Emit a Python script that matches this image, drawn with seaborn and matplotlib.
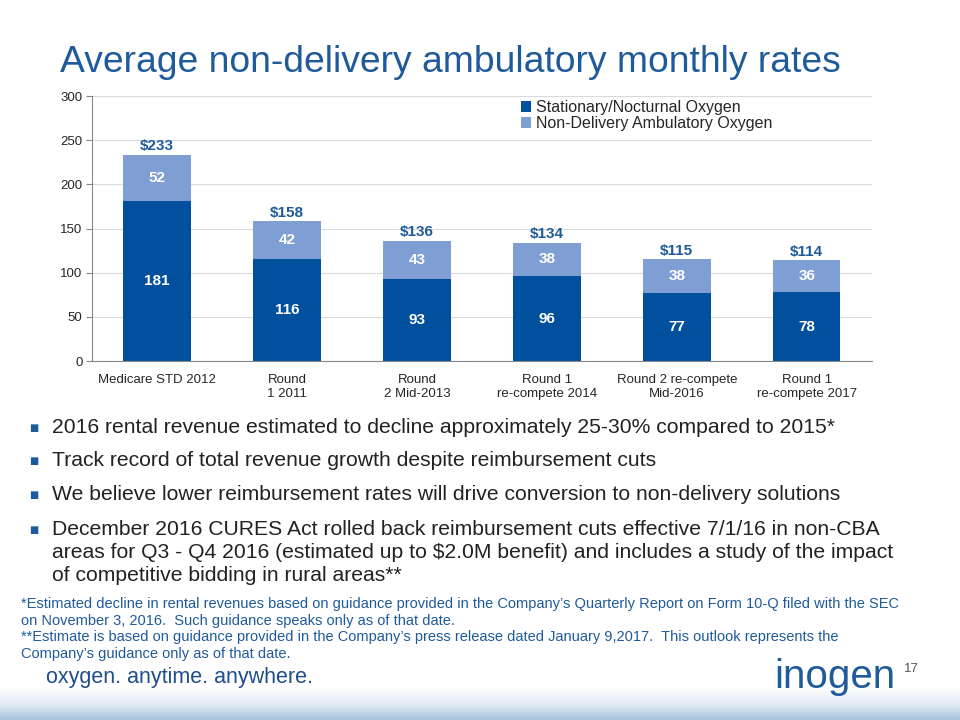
import matplotlib.pyplot as plt
import seaborn as sns
import pandas as pd
import numpy as np
from matplotlib.colors import LinearSegmentedColormap

categories = ["Medicare STD 2012", "Round\n1 2011", "Round\n2 Mid-2013",
              "Round 1\nre-compete 2014", "Round 2 re-compete\nMid-2016",
              "Round 1\nre-compete 2017"]
stationary = [181, 116, 93, 96, 77, 78]
ambulatory = [52, 42, 43, 38, 38, 36]
totals = [233, 158, 136, 134, 115, 114]

bullets = [
    "2016 rental revenue estimated to decline approximately 25-30% compared to 2015*",
    "Track record of total revenue growth despite reimbursement cuts",
    "We believe lower reimbursement rates will drive conversion to non-delivery solutions",
    "December 2016 CURES Act rolled back reimbursement cuts effective 7/1/16 in non-CBA\n"
    "areas for Q3 - Q4 2016 (estimated up to $2.0M benefit) and includes a study of the impact\n"
    "of competitive bidding in rural areas**",
]
footnote = ("*Estimated decline in rental revenues based on guidance provided in the Company\u2019s Quarterly Report on Form 10-Q filed with the SEC\n"
            "on November 3, 2016.  Such guidance speaks only as of that date.\n"
            "**Estimate is based on guidance provided in the Company\u2019s press release dated January 9,2017.  This outlook represents the\n"
            "Company\u2019s guidance only as of that date.")

DARK = "#00509E"
LIGHT = "#7F9FD4"
TITLE = "#1F5A9A"

sns.set_style("white")
plt.rcParams["font.family"] = ["Liberation Sans", "DejaVu Sans"]

df = pd.DataFrame({"cat": categories, "stationary": stationary,
                   "ambulatory": ambulatory, "total": totals})

fig = plt.figure(figsize=(9.6, 7.2), dpi=100)

# light blue band at the bottom of the slide
bg = fig.add_axes([0, 0, 1, 0.045], zorder=-5)
grad = np.linspace(0, 1, 50).reshape(-1, 1) * np.ones((1, 200))
cmap = LinearSegmentedColormap.from_list("band", ["#A7C3DE", "#E4EDF6", "#FFFFFF"])
bg.imshow(grad, aspect="auto", cmap=cmap, origin="lower")
bg.axis("off")

ax = fig.add_axes([0.096, 0.4986, 0.812, 0.368])

sns.barplot(data=df, x="cat", y="total", color=LIGHT, saturation=1,
            width=0.52, linewidth=0, ax=ax, label="Non-Delivery Ambulatory Oxygen")
sns.barplot(data=df, x="cat", y="stationary", color=DARK, saturation=1,
            width=0.52, linewidth=0, ax=ax, label="Stationary/Nocturnal Oxygen")

for i in range(len(categories)):
    ax.text(i, stationary[i] / 2, str(stationary[i]), ha="center", va="center",
            color="white", fontsize=11, fontweight="bold")
    ax.text(i, stationary[i] + ambulatory[i] / 2, str(ambulatory[i]), ha="center",
            va="center", color="white", fontsize=11, fontweight="bold")
    ax.text(i, totals[i] + 2, f"${totals[i]}", ha="center", va="bottom",
            color=TITLE, fontsize=11, fontweight="bold")

ax.set_ylim(0, 300)
ax.set_xlim(-0.5, 5.5)
ax.set_yticks(np.arange(0, 301, 50))
ax.yaxis.grid(True, color="#DADADA", lw=0.8)
ax.set_axisbelow(True)
ax.set_xlabel("")
ax.set_ylabel("")
ax.tick_params(axis="y", labelsize=9.5, left=True, length=4, color="#888888", pad=3)
ax.tick_params(axis="x", labelsize=9.5, bottom=False, pad=6)
for s in ["top", "right"]:
    ax.spines[s].set_visible(False)
ax.spines["left"].set_color("#888888")
ax.spines["bottom"].set_color("#888888")

handles, labels = ax.get_legend_handles_labels()
order = [labels.index("Stationary/Nocturnal Oxygen"), labels.index("Non-Delivery Ambulatory Oxygen")]
ax.legend([handles[k] for k in order], [labels[k] for k in order],
          loc="upper left", bbox_to_anchor=(0.54, 1.015), frameon=False,
          fontsize=11.5, handlelength=0.65, handleheight=0.65, handletextpad=0.3,
          labelspacing=0.05, borderpad=0)

fig.text(0.062, 0.913, "Average non-delivery ambulatory monthly rates",
         fontsize=26.8, color=TITLE, va="center", ha="left")

bullet_y = [428, 461, 495, 530]
for y, b in zip(bullet_y, bullets):
    fig.text(0.035, 1 - y / 720, "\u25A0", fontsize=7, color="#1F5A9A",
             va="center", ha="center", family="DejaVu Sans")
    fig.text(0.054, 1 - (y - 10) / 720, b, fontsize=15.2, color="#222222",
             va="top", ha="left", linespacing=1.27)

fig.text(0.022, 1 - 597 / 720, footnote, fontsize=10.5, color="#1F5A9A",
         va="top", ha="left", linespacing=1.25)

fig.text(0.048, 1 - 677 / 720, "oxygen. anytime. anywhere.", fontsize=15.5,
         color="#1F4E8C", va="center", ha="left")
fig.text(0.806, 1 - 677 / 720, "inogen", fontsize=29, color="#1F5A9A",
         va="center", ha="left")
fig.text(0.957, 1 - 669 / 720, "17", fontsize=9.5, color="#555555",
         va="center", ha="right")

fig.savefig("out.png", dpi=100)
